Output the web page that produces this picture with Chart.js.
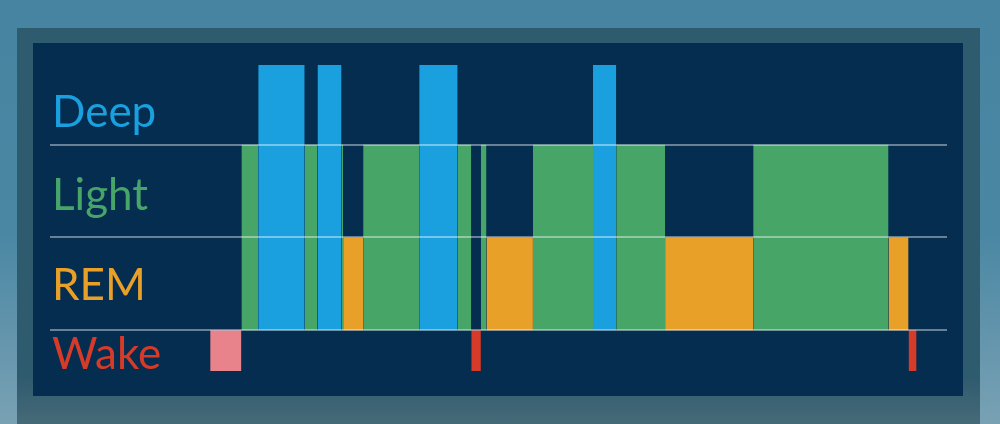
<!DOCTYPE html>
<html>
<head>
<meta charset="utf-8">
<title>Sleep stages</title>
<script src="https://cdn.jsdelivr.net/npm/chart.js@4.4.0/dist/chart.umd.min.js"></script>
<style>
  html, body { margin: 0; padding: 0; }
  body {
    width: 1000px; height: 424px; overflow: hidden; position: relative;
    background: linear-gradient(180deg, #4684a1 0%, #4a87a3 55%, #79a1b4 100%);
  }
  #frame {
    position: absolute; left: 17px; top: 28px; width: 963px; height: 396px;
    background: linear-gradient(180deg, #2f5b6e 0%, #2f5b6e 88%, #466a78 100%);
  }
  #panel {
    position: absolute; left: 33px; top: 43px; width: 930px; height: 353px;
    background: #052d50;
  }
</style>
</head>
<body>
<div id="frame"></div>
<div id="panel"><canvas id="sleepChart" width="930" height="353"></canvas></div>

<script>
// stages shown on the left, top to bottom
const stageNames = ['Deep', 'Light', 'REM', 'Wake'];
// height of each stage on the y axis (0 = bottom of REM)
const stageLevels = [2.86, 2, 1, -0.44];

// start of every segment, minutes after going to bed
const startTimes = [0, 19.5, 30, 59, 67, 82, 83, 95.5, 130.5, 154.5,
                    163, 169, 172.5, 201.5, 239, 253.5, 284, 339, 423.5, 436];
const endTime = 441;
const stages = ['Wake', 'Light', 'Deep', 'Light', 'Deep', 'Light', 'REM', 'Light', 'Deep', 'Light',
                'Wake', 'Light', 'REM', 'Light', 'Deep', 'Light', 'REM', 'Light', 'REM', 'Wake'];

const stageColors = {
    Deep: '#1a9fdf',
    Light: '#47a567',
    REM: '#e9a028',
    Wake: '#d63a28'
};
const fallAsleepColor = '#e8838c'; // awake time before falling asleep

function levelOf(stage) {
    return stageLevels[stageNames.indexOf(stage)];
}

// one point per segment start, plus the end of the night
const points = startTimes.map((t, i) => ({ x: t, y: levelOf(stages[i]) }));
points.push({ x: endTime, y: levelOf(stages[stages.length - 1]) });

function segmentColor(ctx) {
    const i = ctx.p0DataIndex;
    const stage = stages[Math.min(i, stages.length - 1)];
    if (i === 0 && stage === 'Wake') return fallAsleepColor;
    return stageColors[stage];
}

// stage names drawn inside the chart, left side
const stageLabels = {
    id: 'stageLabels',
    afterDraw(chart) {
        const { ctx, chartArea, scales: { y } } = chart;
        const spots = { Deep: [2, -18], Light: [1, -27], REM: [0, -30], Wake: [0, 39] };
        ctx.save();
        ctx.font = '44px Lato';
        ctx.textBaseline = 'alphabetic';
        ctx.textAlign = 'left';
        stageNames.forEach(name => {
            ctx.fillStyle = stageColors[name];
            ctx.fillText(name, chartArea.left + 2, y.getPixelForValue(spots[name][0]) + spots[name][1]);
        });
        ctx.restore();
    }
};

new Chart(document.getElementById('sleepChart'), {
    type: 'line',
    data: {
        datasets: [{
            data: points,
            stepped: 'before',
            fill: 'origin',
            borderWidth: 0,
            pointRadius: 0,
            pointHoverRadius: 0,
            backgroundColor: stageColors.Light,
            segment: { backgroundColor: segmentColor }
        }]
    },
    options: {
        responsive: false,
        animation: false,
        layout: { padding: { left: 17, right: 16, top: 22, bottom: 25 } },
        plugins: {
            legend: { display: false },
            tooltip: { enabled: false }
        },
        scales: {
            x: {
                type: 'linear',
                min: -100,
                max: 460,
                display: false
            },
            y: {
                type: 'linear',
                min: stageLevels[3],
                max: stageLevels[0],
                afterBuildTicks: scale => {
                    scale.ticks = [0, 1, 2].map(v => ({ value: v }));
                },
                ticks: { display: false },
                border: { display: false },
                grid: {
                    color: 'rgba(255, 255, 255, 0.4)',
                    lineWidth: 2,
                    drawTicks: false,
                    z: 1
                }
            }
        }
    },
    plugins: [stageLabels]
});
</script>
</body>
</html>
